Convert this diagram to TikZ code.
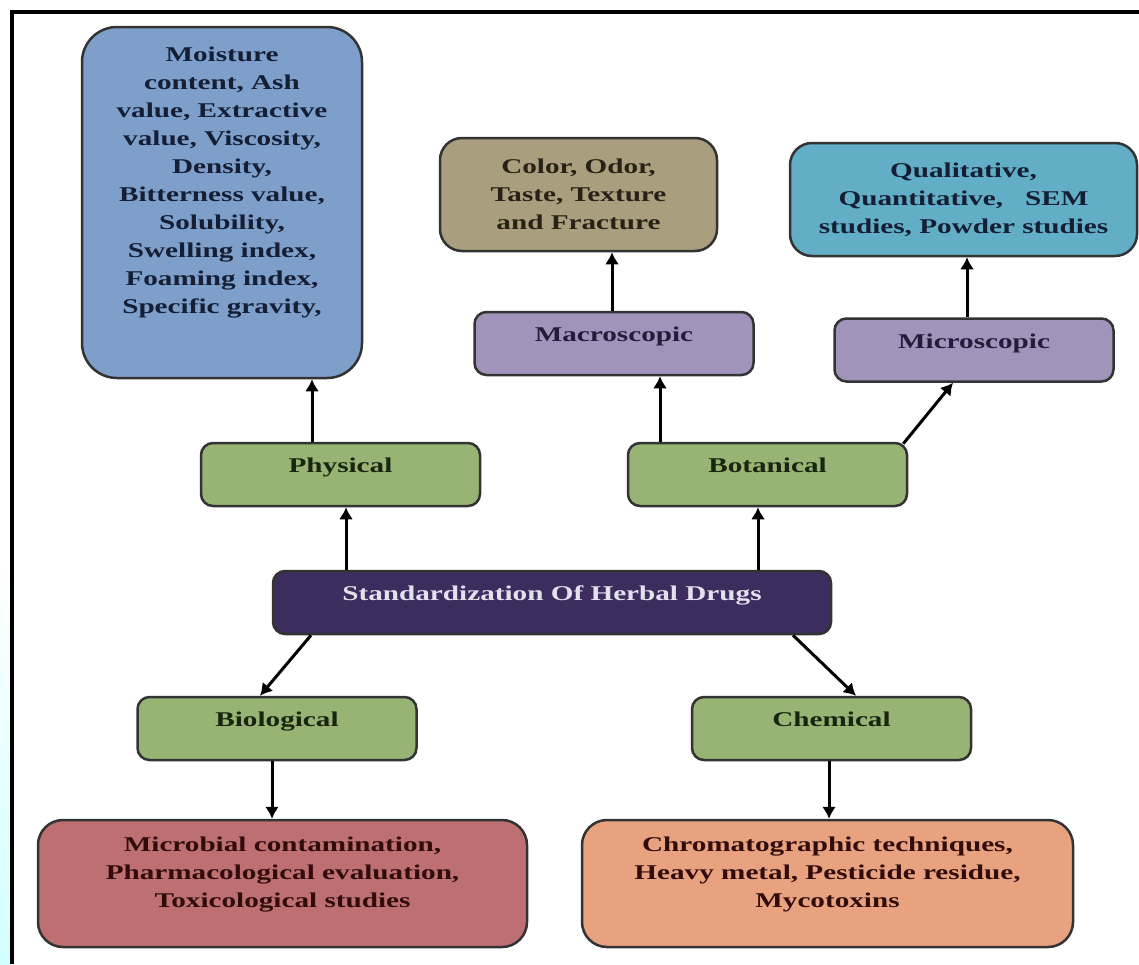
\documentclass[tikz,border=0pt]{standalone}
\usepackage{fontspec}
\newfontfamily\boxfont{Liberation Serif}[FakeStretch=1.39]
\usetikzlibrary{arrows.meta}

\definecolor{propblue}{RGB}{127,159,203}
\definecolor{organotan}{RGB}{169,159,126}
\definecolor{microcyan}{RGB}{98,174,198}
\definecolor{lavender}{RGB}{162,147,187}
\definecolor{leafgreen}{RGB}{151,180,116}
\definecolor{stdpurple}{RGB}{61,44,94}
\definecolor{stdtext}{RGB}{228,224,238}
\definecolor{biored}{RGB}{189,111,114}
\definecolor{chemorange}{RGB}{233,162,127}
\definecolor{inkblue}{RGB}{20,30,52}
\definecolor{inkgreen}{RGB}{24,38,16}
\definecolor{inkpurple}{RGB}{36,28,56}
\definecolor{inkbrown}{RGB}{40,34,22}
\definecolor{inkred}{RGB}{50,12,12}

\begin{document}
\begin{tikzpicture}[x=1pt, y=-1pt,
    box/.style={draw=black!80, line width=2.5pt, rounded corners=12pt, align=center, inner sep=0pt,
        font=\boxfont\bfseries\fontsize{21}{28}\selectfont},
    tag/.style={box, fill=leafgreen, text=inkgreen, minimum width=279pt, minimum height=63pt,
        text height=14pt, text depth=18pt},
    arr/.style={line width=3pt, -{Latex[length=12pt, width=14pt]}}]
    \useasboundingbox (0,0) rectangle (1139,964);

    % frame and the faint strip on its left
    \shade[top color=white, bottom color=cyan!18] (0,560) rectangle (10,964);
    \draw[line width=4pt] (12,964) -- (12,12) -- (1139,12);

    % top row
    \node[box, fill=propblue, text=inkblue, minimum width=280pt, minimum height=351pt,
        rounded corners=35pt, text height=266pt, text depth=45pt] (props) at (222,202.5)
        {Moisture\\content, Ash\\value, Extractive\\value, Viscosity,\\Density,\\Bitterness value,\\Solubility,\\Swelling index,\\Foaming index,\\Specific gravity,};
    \node[box, fill=organotan, text=inkbrown, minimum width=277pt, minimum height=113pt,
        rounded corners=22pt] (organo) at (578.5,194.5) {Color, Odor,\\Taste, Texture\\and Fracture};
    \node[box, fill=microcyan, text=inkblue, minimum width=347pt, minimum height=113pt,
        rounded corners=22pt] (microdet) at (963.5,199.5) {Qualitative,\\Quantitative,\ \ \ SEM\\studies, Powder studies};

    % middle rows
    \node[tag, fill=lavender, text=inkpurple] (macro) at (614,343.5) {Macroscopic};
    \node[tag, fill=lavender, text=inkpurple] (micro) at (974,350) {Microscopic};
    \node[tag] (physical) at (340.5,474.5) {Physical};
    \node[tag] (botanical) at (767.5,474.5) {Botanical};
    \node[tag, fill=stdpurple, text=stdtext, minimum width=558pt] (std) at (552,602.5) {Standardization Of Herbal Drugs};
    \node[tag] (biological) at (277,728.5) {Biological};
    \node[tag] (chemical) at (831.5,728.5) {Chemical};

    % bottom row
    \node[box, fill=biored, text=inkred, minimum width=489pt, minimum height=127pt,
        rounded corners=25pt, text height=70pt, text depth=23pt] (biotests) at (282.5,883.5)
        {Microbial contamination,\\Pharmacological evaluation,\\Toxicological studies};
    \node[box, fill=chemorange, text=inkred, minimum width=491pt, minimum height=127pt,
        rounded corners=25pt, text height=70pt, text depth=23pt] (chemtests) at (827.5,883.5)
        {Chromatographic techniques,\\Heavy metal, Pesticide residue,\\Mycotoxins};

    % straight arrows
    \foreach \a/\b/\dx in {physical/props/-28.5, macro/organo/-2, micro/microdet/-7,
            botanical/macro/-107.5, std/physical/-206, std/botanical/206} {
        \path ([xshift=\dx pt]\a.north) coordinate (s);
        \draw[arr] (s) -- (s |- \b.south);
    }
    \foreach \a/\b/\dx in {biological/biotests/-5, chemical/chemtests/-2.5} {
        \path ([xshift=\dx pt]\a.south) coordinate (s);
        \draw[arr] (s) -- (s |- \b.north);
    }

    % slanted arrows
    \draw[arr] ([shift={(-5,2)}]botanical.north east) -- ([xshift=-21pt]micro.south);
    \draw[arr] ([xshift=-241pt]std.south) -- ([xshift=-17pt]biological.north);
    \draw[arr] ([xshift=241pt]std.south) -- ([xshift=24.5pt]chemical.north);
\end{tikzpicture}
\end{document}
